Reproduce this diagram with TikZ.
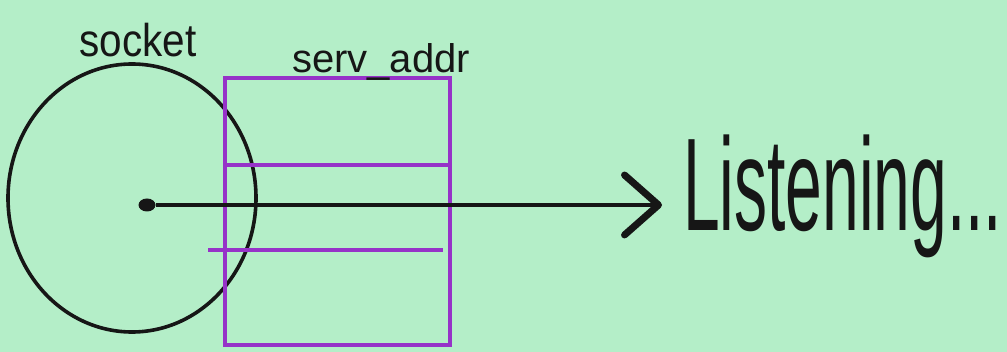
\documentclass[tikz,border=0pt]{standalone}
\usepackage{fontspec}
\setmainfont{Liberation Sans}
\usetikzlibrary{arrows.meta,shapes.geometric}
\definecolor{bg}{RGB}{180,238,200}
\definecolor{pen}{RGB}{22,22,22}
\definecolor{violetpen}{RGB}{150,50,200}
\tikzset{
  ink/.style={draw=pen, line width=3.6pt},
  field/.style={draw=violetpen, line width=3.2pt},
  hand/.style={text=pen, inner sep=0pt},
}
\begin{document}
\begin{tikzpicture}[x=1pt,y=-1pt]
\fill[bg] (0,0) rectangle (1007,352);
\useasboundingbox (0,0) rectangle (1007,352);
% socket circle
\draw[ink] (132,198) ellipse (124 and 134);
% serv_addr structure
\node[field, minimum width=225pt, minimum height=267pt, inner sep=0pt] (addr) at (337.5,211.5) {};
\draw[field] (224,165) -- (450,165);
\draw[field] (208,250) -- (443,250);
% labels
\node[hand, anchor=base, font=\fontsize{46}{46}\selectfont, xscale=0.88] (socklbl) at (138,57) {socket};
\node[hand, anchor=base, font=\fontsize{40}{40}\selectfont] (addrlbl) at (381,73) {serv\_addr};
% socket end point
\node[fill=pen, ellipse, minimum width=17pt, minimum height=13pt, inner sep=0pt] (dot) at (147,205) {};
% Listening text
\node[hand, anchor=base west, font=\fontsize{132}{132}\selectfont, xscale=0.5] (listen) at (683,231) {Listening...};
\coordinate (tip) at (662,205);
\draw[ink, -{Straight Barb[length=34pt,width=60pt,line width=7pt,round]}] (dot.east) -- (tip);
\end{tikzpicture}
\end{document}
